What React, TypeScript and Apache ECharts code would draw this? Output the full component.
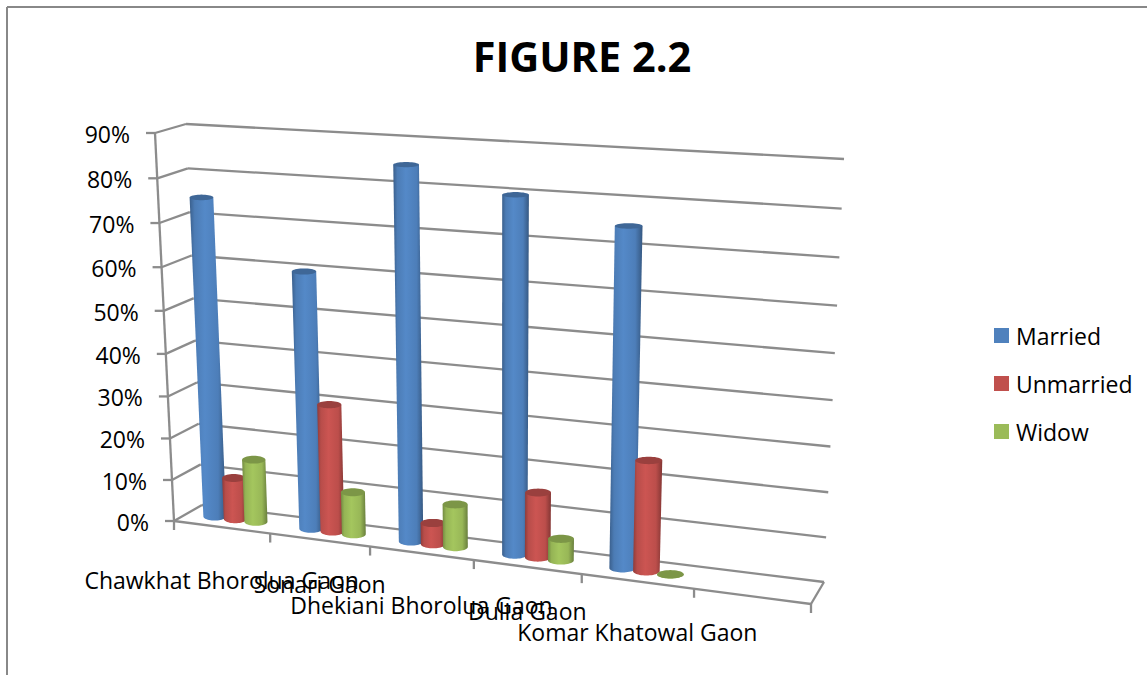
import React, { useEffect, useRef } from "react";
import * as echarts from "echarts";

// Chart content
const categories = [
  "Chawkhat Bhorolua Gaon",
  "Sonari Gaon",
  "Dhekiani Bhorolua Gaon",
  "Dulia Gaon",
  "Komar Khatowal Gaon",
  "",
];
const married = [75, 60, 85, 80, 75];
const unmarried = [10, 30, 5, 15, 25];
const widow = [15, 10, 10, 5, 0];
const percentTicks = [0, 10, 20, 30, 40, 50, 60, 70, 80, 90];
const categoryEdges = [0, 1, 2, 3, 4, 5, 6];
const labelDrop = [53, 44, 52, 44, 51];

type Pt = [number, number];
const FONT = '"Open Sans", sans-serif';
const GRID_COLOR = "#8c8c8c";

// Maps the unit square onto a quadrilateral with a projective transform.
function quadMap(p00: Pt, p10: Pt, p01: Pt, p11: Pt) {
  const [x0, y0] = p00, [x1, y1] = p10, [x2, y2] = p11, [x3, y3] = p01;
  const sx = x0 - x1 + x2 - x3, sy = y0 - y1 + y2 - y3;
  const dx1 = x1 - x2, dx2 = x3 - x2, dy1 = y1 - y2, dy2 = y3 - y2;
  const den = dx1 * dy2 - dx2 * dy1;
  const g = (sx * dy2 - dx2 * sy) / den;
  const h = (dx1 * sy - sx * dy1) / den;
  const a = x1 - x0 + g * x1, b = x3 - x0 + h * x3, c = x0;
  const d = y1 - y0 + g * y1, e = y3 - y0 + h * y3, f = y0;
  return (u: number, v: number): Pt => {
    const w = g * u + h * v + 1;
    return [(a * u + b * v + c) / w, (d * u + e * v + f) / w];
  };
}

const frontPlane = quadMap([174, 521], [811, 604], [155, 133], [831, 170]);
const backPlane = quadMap([202, 505], [824, 582], [186, 124], [844, 159]);

// u runs along the categories, v up the value axis, z from front to back.
function project(u: number, v: number, z: number): Pt {
  const a = frontPlane(u, v), b = backPlane(u, v);
  return [a[0] + (b[0] - a[0]) * z, a[1] + (b[1] - a[1]) * z];
}

// Grid position of a data point, as fractions of the plot rectangle.
function toUnit(params: any, api: any, cat: number, val: number) {
  const cs = params.coordSys;
  const p = api.coord([cat, val]);
  return { u: (p[0] - cs.x) / cs.width, v: (cs.y + cs.height - p[1]) / cs.height };
}

function shade(hex: string, k: number) {
  const n = parseInt(hex.slice(1), 16);
  const ch = (s: number) => Math.min(255, Math.round(((n >> s) & 255) * k));
  return `rgb(${ch(16)},${ch(8)},${ch(0)})`;
}

const BAR_DEPTH = 0.5;
const BAR_RADIUS = 0.02;
const BAR_STEP = 0.036;

function cylinderSeries(name: string, values: number[], color: string, slot: number, z: number) {
  return {
    type: "custom",
    name,
    z,
    itemStyle: { color },
    data: values.map((val, i) => [i, val]),
    encode: { x: 0, y: 1 },
    renderItem(params: any, api: any) {
      const cat = api.value(0), val = api.value(1);
      const { u, v } = toUnit(params, api, cat, val);
      const cu = u + slot * BAR_STEP;
      const base = project(cu, 0, BAR_DEPTH);
      const top = project(cu, v, BAR_DEPTH);
      const baseL = project(cu - BAR_RADIUS, 0, BAR_DEPTH);
      const baseR = project(cu + BAR_RADIUS, 0, BAR_DEPTH);
      const topL = project(cu - BAR_RADIUS, v, BAR_DEPTH);
      const topR = project(cu + BAR_RADIUS, v, BAR_DEPTH);
      const ryBase = 4.2;
      const ryTop = 4.2 - 1.7 * v;
      const bw = (baseR[0] - baseL[0]) / 2;
      const tw = (topR[0] - topL[0]) / 2;

      const outline: number[][] = [[top[0] - tw, top[1]]];
      for (let k = 0; k <= 24; k++) {
        const t = Math.PI - (Math.PI * k) / 24;
        outline.push([base[0] + bw * Math.cos(t), base[1] + ryBase * Math.sin(t)]);
      }
      outline.push([top[0] + tw, top[1]]);

      const cap: number[][] = [];
      for (let k = 0; k < 40; k++) {
        const t = (2 * Math.PI * k) / 40;
        cap.push([top[0] + tw * Math.cos(t), top[1] + ryTop * Math.sin(t)]);
      }

      const fill = new echarts.graphic.LinearGradient(0, 0, 1, 0, [
        { offset: 0, color: shade(color, 0.74) },
        { offset: 0.14, color: shade(color, 0.96) },
        { offset: 0.42, color: shade(color, 1.06) },
        { offset: 0.78, color: shade(color, 0.98) },
        { offset: 1, color: shade(color, 0.68) },
      ]);
      return {
        type: "group",
        children: [
          { type: "polygon", shape: { points: outline }, style: { fill } },
          { type: "polygon", shape: { points: cap }, style: { fill: shade(color, 0.8) } },
        ],
      };
    },
  };
}

const lineStyle = { stroke: GRID_COLOR, lineWidth: 2.3 };
const segment = (a: Pt, b: Pt) => ({
  type: "line",
  shape: { x1: a[0], y1: a[1], x2: b[0], y2: b[1] },
  style: lineStyle,
});

export default function App() {
  const ref = useRef<HTMLDivElement>(null);

  useEffect(() => {
    const chart = echarts.init(ref.current!, undefined, { renderer: "svg" });
    chart.setOption({
      animation: false,
      backgroundColor: "#ffffff",
      title: {
        text: "FIGURE 2.2",
        left: 577,
        top: 30,
        textAlign: "center",
        textStyle: { fontFamily: FONT, fontSize: 41.5, fontWeight: "bold", color: "#000000" },
      },
      legend: {
        orient: "vertical",
        left: 994,
        top: 324,
        padding: 0,
        icon: "rect",
        itemWidth: 15,
        itemHeight: 15,
        itemGap: 25,
        data: ["Married", "Unmarried", "Widow"],
        textStyle: { fontFamily: FONT, fontSize: 23, color: "#000000", padding: [0, 0, 0, 2] },
      },
      grid: { left: 0, right: 0, top: 0, bottom: 0 },
      xAxis: { type: "category", data: categories, show: false },
      yAxis: { type: "value", min: 0, max: 90, interval: 10, show: false },
      graphic: [
        { type: "line", shape: { x1: 7, y1: 7, x2: 1147, y2: 7 }, style: { stroke: "#888888", lineWidth: 2 } },
        { type: "line", shape: { x1: 7, y1: 7, x2: 7, y2: 675 }, style: { stroke: "#888888", lineWidth: 2 } },
      ],
      series: [
        {
          // side wall, back wall, value ticks and value labels
          type: "custom",
          z: 1,
          data: percentTicks.map((t) => [0, t]),
          encode: { x: 0, y: 1 },
          renderItem(params: any, api: any) {
            const { v } = toUnit(params, api, 0, api.value(1));
            const front = project(0, v, 0);
            const corner = project(0, v, 1);
            const right = project(1, v, 1);
            const children: any[] = [
              segment([front[0] - 9, front[1]], front),
              segment(front, corner),
              segment(corner, right),
              {
                type: "text",
                x: front[0] - 25,
                y: front[1] + 1,
                style: {
                  text: `${api.value(1)}%`,
                  fontFamily: FONT,
                  fontSize: 23,
                  fill: "#000000",
                  align: "right",
                  verticalAlign: "middle",
                },
              },
            ];
            if (params.dataIndex === 0) {
              children.push(segment(front, project(0, 1, 0)));
            }
            return { type: "group", children };
          },
        },
        {
          // floor edges and category ticks
          type: "custom",
          z: 1,
          data: categoryEdges.map((e) => [e, 0]),
          encode: { x: 0, y: 1 },
          renderItem(params: any, api: any) {
            const u = api.value(0) / categoryEdges[categoryEdges.length - 1];
            const p = project(u, 0, 0);
            const children: any[] = [segment(p, [p[0], p[1] + 9])];
            if (api.value(0) === 0) {
              children.push(segment(project(0, 0, 0), project(1, 0, 0)));
              children.push(segment(project(1, 0, 0), project(1, 0, 1)));
            }
            return { type: "group", children };
          },
        },
        cylinderSeries("Married", married, "#4F81BD", -1, 2),
        cylinderSeries("Unmarried", unmarried, "#C0504D", 0, 3),
        cylinderSeries("Widow", widow, "#9BBB59", 1, 4),
        {
          // staggered category labels
          type: "custom",
          z: 5,
          data: categories.slice(0, 5).map((_, i) => [i, 0]),
          encode: { x: 0, y: 1 },
          renderItem(params: any, api: any) {
            const i = api.value(0);
            const { u } = toUnit(params, api, i, 0);
            const p = project(u, 0, 0);
            return {
              type: "text",
              x: p[0],
              y: p[1] + labelDrop[i],
              style: {
                text: categories[i],
                fontFamily: FONT,
                fontSize: 23,
                fill: "#000000",
                align: "center",
                verticalAlign: "middle",
              },
            };
          },
        },
      ],
    });
    return () => chart.dispose();
  }, []);

  return <div ref={ref} style={{ position: "absolute", left: 0, top: 0, width: 1147, height: 675 }} />;
}
